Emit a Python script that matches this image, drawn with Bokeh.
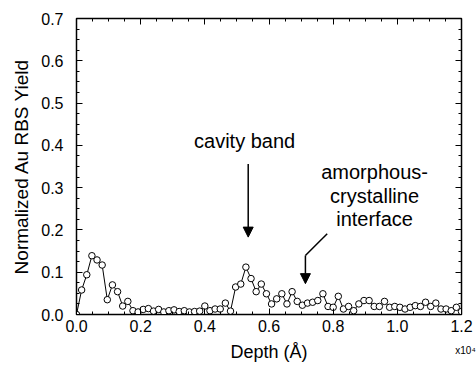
from bokeh.plotting import figure
from bokeh.models import (LinearAxis, Range1d, Label, Arrow, NormalHead,
                          FixedTicker, CustomJSTickFormatter)
from bokeh.embed import file_html
from bokeh.resources import INLINE

# ---- data ----
depth = [0, 160, 320, 480, 640, 800, 960, 1120, 1280, 1440, 1600, 1760, 1920, 2080, 2240,
         2400, 2560, 2720, 2880, 3040, 3200, 3360, 3520, 3680, 3840, 4000, 4160, 4320,
         4480, 4640, 4800, 4960, 5120, 5280, 5440, 5600, 5760, 5920, 6080, 6240, 6400,
         6560, 6720, 6880, 7040, 7200, 7360, 7520, 7680, 7840, 8000, 8160, 8320, 8480,
         8640, 8800, 8960, 9120, 9280, 9440, 9600, 9760, 9920, 10080, 10240, 10400,
         10560, 10720, 10880, 11040, 11200, 11360, 11520, 11680, 11840, 12000]
yield_au = [0.000, 0.058, 0.094, 0.139, 0.129, 0.117, 0.035, 0.070, 0.054, 0.020, 0.031,
            0.009, 0.006, 0.012, 0.014, 0.008, 0.012, 0.006, 0.009, 0.011, 0.007, 0.009,
            0.006, 0.007, 0.008, 0.020, 0.009, 0.013, 0.013, 0.027, 0.008, 0.065, 0.072,
            0.112, 0.085, 0.054, 0.072, 0.049, 0.025, 0.037, 0.049, 0.025, 0.054, 0.031,
            0.022, 0.027, 0.029, 0.033, 0.049, 0.019, 0.017, 0.043, 0.013, 0.019, 0.009,
            0.025, 0.033, 0.033, 0.019, 0.019, 0.031, 0.017, 0.019, 0.017, 0.013, 0.017,
            0.021, 0.019, 0.029, 0.019, 0.027, 0.013, 0.013, 0.009, 0.017, 0.007]

x_ticks = [0, 2000, 4000, 6000, 8000, 10000, 12000]
x_tick_labels = ["0.0", "0.2", "0.4", "0.6", "0.8", "1.0", "1.2"]
y_ticks = [0.0, 0.1, 0.2, 0.3, 0.4, 0.5, 0.6, 0.7]
y_tick_labels = ["0.0", "0.1", "0.2", "0.3", "0.4", "0.5", "0.6", "0.7"]

x_label = "Depth (Å)"
y_label = "Normalized Au RBS Yield"
exp_label = "x10⁴"
cavity_text = "cavity band"
interface_lines = ["amorphous-", "crystalline", "interface"]

# annotation anchor positions (data units)
cavity_text_pos = (5240, 0.410)
cavity_arrow = (5352, 0.356, 5352, 0.183)
iface_text_x = 9290
iface_text_y = [0.338, 0.281, 0.227]
iface_seg1 = (7814, 0.191, 7135, 0.1395)
iface_seg2 = (7135, 0.1395, 7135, 0.073)

FONT = "Liberation Sans"

x_minor = [i * 500 for i in range(0, 25)]
y_minor = [round(i * 0.025, 3) for i in range(0, 29)]

p = figure(width=476, height=368, output_backend="svg", toolbar_location=None,
           x_range=Range1d(0, 12000), y_range=Range1d(0, 0.7),
           min_border_left=76, min_border_right=15, min_border_top=18,
           min_border_bottom=54, background_fill_color="white",
           border_fill_color="white")
p.xgrid.visible = False
p.ygrid.visible = False
p.outline_line_color = "black"
p.outline_line_width = 1.5

bottom = p.below[0]
left = p.left[0]

bottom.ticker = FixedTicker(ticks=x_ticks, minor_ticks=x_minor)
left.ticker = FixedTicker(ticks=y_ticks, minor_ticks=y_minor)
bottom.major_label_overrides = dict(zip(x_ticks, x_tick_labels))
left.major_label_overrides = dict(zip(y_ticks, y_tick_labels))
bottom.axis_label = None
left.axis_label = y_label

top = LinearAxis(ticker=FixedTicker(ticks=x_ticks, minor_ticks=x_minor),
                 formatter=CustomJSTickFormatter(code="return '';"),
                 major_label_standoff=0)
right = LinearAxis(ticker=FixedTicker(ticks=y_ticks, minor_ticks=y_minor),
                   formatter=CustomJSTickFormatter(code="return '';"),
                   major_label_standoff=0)
p.add_layout(top, "above")
p.add_layout(right, "right")

for ax in [bottom, left, top, right]:
    ax.major_tick_in = 6
    ax.major_tick_out = 0
    ax.minor_tick_in = 3
    ax.minor_tick_out = 0
    ax.axis_line_color = "black"
    ax.major_tick_line_color = "black"
    ax.minor_tick_line_color = "black"
    ax.axis_line_width = 1
    ax.major_label_text_font = FONT
    ax.axis_label_text_font = FONT
    ax.axis_label_text_font_style = "normal"
    ax.axis_label_text_color = "black"
    ax.major_label_text_color = "black"

for ax in [bottom, left]:
    ax.major_label_text_font_size = "16px"
left.axis_label_text_font_size = "19px"
bottom.major_label_standoff = 5
left.major_label_standoff = 13
left.axis_label_standoff = 6

# second bottom axis: carries the "x10⁴" multiplier and the axis title
label_axis = LinearAxis(ticker=FixedTicker(ticks=[x_ticks[-1]], minor_ticks=[]),
                        major_label_overrides={x_ticks[-1]: "\u00a0" * 4 + exp_label},
                        axis_label=x_label,
                        axis_line_color=None, major_tick_line_color=None,
                        minor_tick_line_color=None,
                        major_tick_in=0, major_tick_out=0,
                        minor_tick_in=0, minor_tick_out=0,
                        major_label_standoff=10,
                        major_label_text_font=FONT, major_label_text_font_size="10px",
                        major_label_text_color="black",
                        axis_label_text_font=FONT, axis_label_text_font_size="18px",
                        axis_label_text_font_style="normal",
                        axis_label_text_color="black",
                        axis_label_standoff=-17)
p.add_layout(label_axis, "below")

p.line(depth, yield_au, line_color="black", line_width=1)
p.scatter(depth, yield_au, marker="circle", size=6.5, fill_color="white",
          line_color="black", line_width=1)

# annotations
p.add_layout(Label(x=cavity_text_pos[0], y=cavity_text_pos[1], text=cavity_text,
                   text_font=FONT, text_font_size="20px", text_align="center",
                   text_baseline="middle", text_color="black"))
p.add_layout(Arrow(end=NormalHead(size=10, fill_color="black", line_color="black"),
                   x_start=cavity_arrow[0], y_start=cavity_arrow[1],
                   x_end=cavity_arrow[2], y_end=cavity_arrow[3],
                   line_width=1.5, line_color="black"))
for t, yy in zip(interface_lines, iface_text_y):
    p.add_layout(Label(x=iface_text_x, y=yy, text=t, text_font=FONT,
                       text_font_size="20px", text_align="center",
                       text_baseline="middle", text_color="black"))
p.add_layout(Arrow(end=None, x_start=iface_seg1[0], y_start=iface_seg1[1],
                   x_end=iface_seg1[2], y_end=iface_seg1[3],
                   line_width=1.5, line_color="black"))
p.add_layout(Arrow(end=NormalHead(size=10, fill_color="black", line_color="black"),
                   x_start=iface_seg2[0], y_start=iface_seg2[1],
                   x_end=iface_seg2[2], y_end=iface_seg2[3],
                   line_width=1.5, line_color="black"))

open("out.html", "w").write(file_html(p, INLINE))
